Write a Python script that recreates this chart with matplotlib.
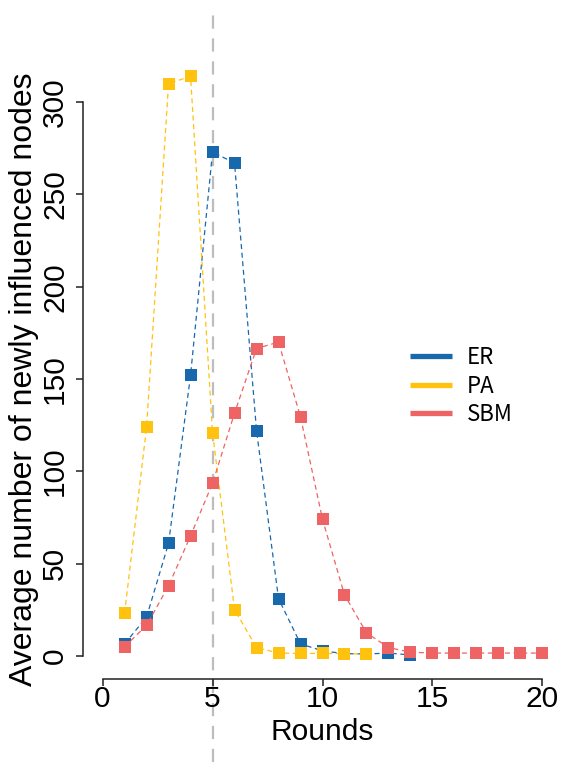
import matplotlib
matplotlib.use("Agg")
import matplotlib.pyplot as plt
import numpy as np

plt.rcParams['font.family'] = ['Liberation Sans', 'DejaVu Sans']
plt.rcParams['lines.scale_dashes'] = False

# data
rounds_er = [1, 2, 3, 4, 5, 6, 7, 8, 9, 10, 11, 12, 13, 14]
er = [6.5, 21, 61, 152, 273, 267, 122, 31, 6.5, 2.7, 1.2, 1.0, 1.5, 0.5]
rounds_pa = [1, 2, 3, 4, 5, 6, 7, 8, 9, 10, 11, 12]
pa = [23, 124, 310, 314, 121, 25, 4.5, 1.5, 1.3, 1.3, 1.2, 1.0]
rounds_sbm = list(range(1, 21))
sbm = [5, 16.5, 38, 65, 93.5, 131.5, 166.5, 170, 129.5, 74, 33, 12.5, 4.5,
       2, 1.5, 1.5, 1.5, 1.5, 1.5, 1.5]

series = [("ER", rounds_er, er, "#1868AE"),
          ("PA", rounds_pa, pa, "#FFC20E"),
          ("SBM", rounds_sbm, sbm, "#EE6363")]

W, H = 561, 762
fig = plt.figure(figsize=(W / 100, H / 100), dpi=100)
# axes box in pixels: left 85, right 560, top 80, bottom 678
ax = fig.add_axes([85 / W, 1 - 678 / H, (560 - 85) / W, (678 - 80) / H])

for name, x, y, c in series:
    ax.plot(x, y, color=c, lw=0.9, linestyle=(0, (3.6, 2.6)),
            marker="s", markersize=9.2, markeredgewidth=0, clip_on=False,
            zorder=3)
    # legend handle only
    ax.plot([], [], color=c, lw=3.8, solid_capstyle="butt", label=name)

ax.set_xlim(-0.8, 20.8)
ax.set_ylim(-12, 312)

# vertical reference line at round 5, running past the axes
ax.axvline(5, ymin=-0.14, ymax=1.112, color="#BDBDBD", lw=1.6,
           linestyle=(0, (9.5, 7.0)), clip_on=False, zorder=1)

for s in ["top", "right"]:
    ax.spines[s].set_visible(False)
ax.spines["left"].set_bounds(0, 300)
ax.spines["bottom"].set_bounds(0, 20)
ax.spines["left"].set_position(("outward", 1.5))
ax.spines["bottom"].set_position(("outward", 1))
for s in ["left", "bottom"]:
    ax.spines[s].set_linewidth(1.1)
    ax.spines[s].set_color("#222222")

ax.set_xticks([0, 5, 10, 15, 20])
ax.set_yticks([0, 50, 100, 150, 200, 250, 300])
ax.tick_params(axis="both", length=5, width=1.1, color="#222222",
               labelsize=21.5)
ax.tick_params(axis="x", pad=-1)
ax.tick_params(axis="y", pad=5)
plt.setp(ax.get_yticklabels(), rotation=90, va="center")

ax.set_xlabel("Rounds", fontsize=21.5, labelpad=4)
ax.set_ylabel("Average number of newly influenced nodes", fontsize=23)
ax.yaxis.set_label_coords(-0.097, 0.5)

handles, labels = ax.get_legend_handles_labels()
ax.legend(handles, labels, loc="upper left",
          bbox_to_anchor=(399 / W, 1 - 335 / H), bbox_transform=fig.transFigure,
          frameon=False, borderpad=0, handlelength=1.9, handletextpad=0.65,
          labelspacing=0.25, prop={"family": "Noto Sans CJK SC", "size": 16})

fig.savefig("out.png", dpi=100)
